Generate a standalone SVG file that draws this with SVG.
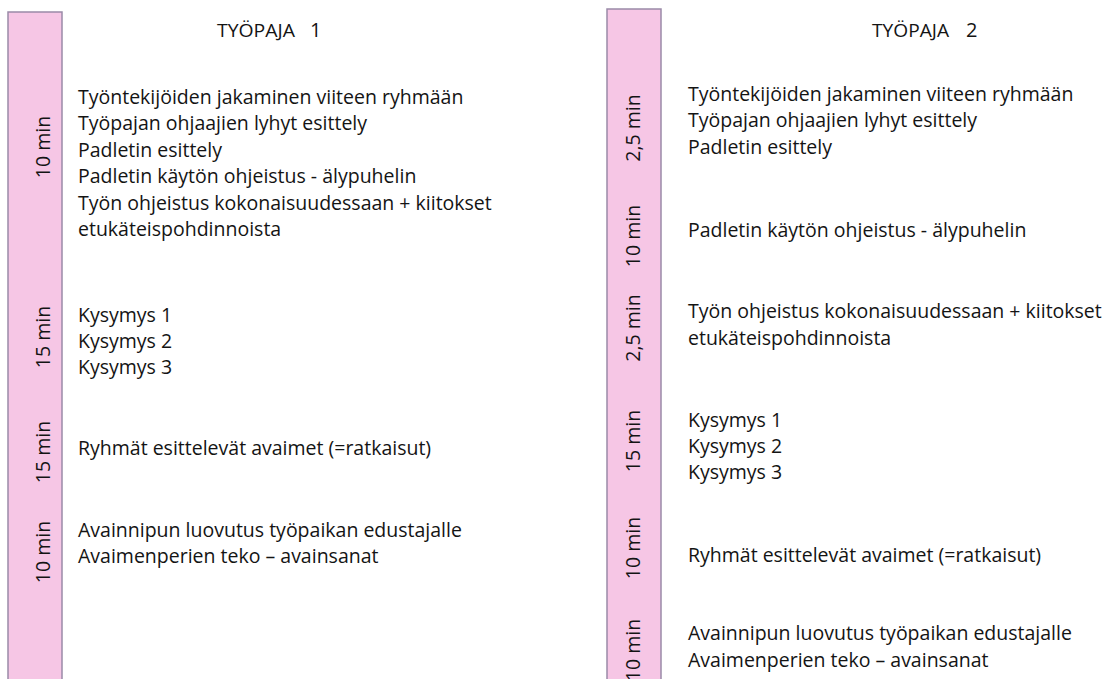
<svg xmlns="http://www.w3.org/2000/svg" width="1107" height="679" viewBox="0 0 1107 679">
<style>
.bar{fill:#f6c6e5;stroke:#9a8aa8;stroke-width:1.5}
.t{font-family:"Open Sans","Liberation Sans",sans-serif;font-size:19.5px;fill:#141414}
.ttl{font-family:"Open Sans","Liberation Sans",sans-serif;font-size:18px;fill:#141414}
.num{font-family:"Open Sans","Liberation Sans",sans-serif;font-size:20px;fill:#141414}
.lbl{font-family:"Open Sans","Liberation Sans",sans-serif;font-size:19.5px;fill:#141414;text-anchor:middle}
</style>
<rect width="1107" height="679" fill="#ffffff"/>
<g id="tyopaja1">
  <rect class="bar" x="8" y="12" width="54" height="680"/>
  <text class="ttl" x="217" y="37" textLength="78" lengthAdjust="spacingAndGlyphs">TYÖPAJA</text>
  <text class="num" x="310" y="37">1</text>
  <g id="t1-labels">
    <text class="lbl" transform="translate(50,147) rotate(-90)">10 min</text>
    <text class="lbl" transform="translate(50,337) rotate(-90)">15 min</text>
    <text class="lbl" transform="translate(50,452) rotate(-90)">15 min</text>
    <text class="lbl" transform="translate(50,552) rotate(-90)">10 min</text>
  </g>
  <g id="t1-items">
    <text class="t" x="78" y="104">Työntekijöiden jakaminen viiteen ryhmään</text>
    <text class="t" x="78" y="130">Työpajan ohjaajien lyhyt esittely</text>
    <text class="t" x="78" y="157">Padletin esittely</text>
    <text class="t" x="78" y="183">Padletin käytön ohjeistus - älypuhelin</text>
    <text class="t" x="78" y="210">Työn ohjeistus kokonaisuudessaan + kiitokset</text>
    <text class="t" x="78" y="236">etukäteispohdinnoista</text>
    <text class="t" x="78" y="322">Kysymys 1</text>
    <text class="t" x="78" y="348">Kysymys 2</text>
    <text class="t" x="78" y="374">Kysymys 3</text>
    <text class="t" x="78" y="455">Ryhmät esittelevät avaimet (=ratkaisut)</text>
    <text class="t" x="78" y="537">Avainnipun luovutus työpaikan edustajalle</text>
    <text class="t" x="78" y="563">Avaimenperien teko – avainsanat</text>
  </g>
</g>
<g id="tyopaja2">
  <rect class="bar" x="607" y="9" width="54" height="680"/>
  <text class="ttl" x="872" y="37" textLength="77" lengthAdjust="spacingAndGlyphs">TYÖPAJA</text>
  <text class="num" x="966" y="37">2</text>
  <g id="t2-labels">
    <text class="lbl" transform="translate(640,128) rotate(-90)">2,5 min</text>
    <text class="lbl" transform="translate(640,236) rotate(-90)">10 min</text>
    <text class="lbl" transform="translate(640,328) rotate(-90)">2,5 min</text>
    <text class="lbl" transform="translate(640,441) rotate(-90)">15 min</text>
    <text class="lbl" transform="translate(640,548) rotate(-90)">10 min</text>
    <text class="lbl" transform="translate(640,650) rotate(-90)">10 min</text>
  </g>
  <g id="t2-items">
    <text class="t" x="688" y="101">Työntekijöiden jakaminen viiteen ryhmään</text>
    <text class="t" x="688" y="127">Työpajan ohjaajien lyhyt esittely</text>
    <text class="t" x="688" y="154">Padletin esittely</text>
    <text class="t" x="688" y="237">Padletin käytön ohjeistus - älypuhelin</text>
    <text class="t" x="688" y="318">Työn ohjeistus kokonaisuudessaan + kiitokset</text>
    <text class="t" x="688" y="345">etukäteispohdinnoista</text>
    <text class="t" x="688" y="427">Kysymys 1</text>
    <text class="t" x="688" y="453">Kysymys 2</text>
    <text class="t" x="688" y="479">Kysymys 3</text>
    <text class="t" x="688" y="562">Ryhmät esittelevät avaimet (=ratkaisut)</text>
    <text class="t" x="688" y="640">Avainnipun luovutus työpaikan edustajalle</text>
    <text class="t" x="688" y="667">Avaimenperien teko – avainsanat</text>
  </g>
</g>
<g id="connectors"/>
</svg>
